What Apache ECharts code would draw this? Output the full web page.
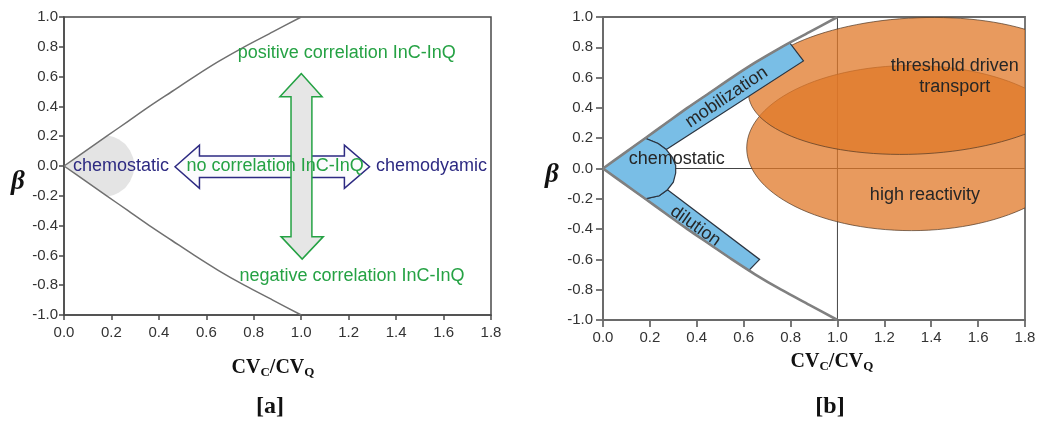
<!DOCTYPE html>
<html><head><meta charset="utf-8">
<script src="https://cdn.jsdelivr.net/npm/echarts@6/dist/echarts.min.js"></script>
<style>html,body{margin:0;padding:0;background:#fff}#c{width:1054px;height:423px}</style>
</head><body><div id="c"></div>
<script>
// ---------- data ----------
// boundary curve: |beta| vs CVc/CVq
const curveBeta  = [0, 0.1, 0.2, 0.3, 0.4, 0.5, 0.6, 0.7, 0.8, 0.9, 1.0];
const curveRatio = [0, 0.09, 0.18, 0.27, 0.36, 0.455, 0.55, 0.65, 0.76, 0.88, 1.0];
const xTickValues = [0, 0.2, 0.4, 0.6, 0.8, 1.0, 1.2, 1.4, 1.6, 1.8];
const yTickValues = [-1.0, -0.8, -0.6, -0.4, -0.2, 0.0, 0.2, 0.4, 0.6, 0.8, 1.0];

// panel [a]
const chemoGrayA = [[0,0],[0.185,0.205],[0.21,0.195],[0.23,0.18],[0.258,0.147],[0.278,0.104],[0.292,0.054],[0.296,0],[0.292,-0.054],[0.278,-0.104],[0.258,-0.147],[0.23,-0.18],[0.21,-0.195],[0.185,-0.205]];
const arrowNoCorr = [[0.468,-0.005],[0.571,0.14],[0.571,0.067],[1.182,0.067],[1.182,0.14],[1.288,-0.005],[1.182,-0.15],[1.182,-0.077],[0.571,-0.077],[0.571,-0.15]];
const arrowCorr = [[1.0,0.62],[1.088,0.464],[1.045,0.464],[1.045,-0.474],[1.093,-0.474],[1.004,-0.625],[0.915,-0.474],[0.957,-0.474],[0.957,0.464],[0.91,0.464]];
const greenLabelsA = [['positive correlation InC-InQ',1.192,0.755],['negative correlation InC-InQ',1.214,-0.737],['no correlation InC-InQ',0.89,0]];
const navyLabelsA = [['chemostatic',0.24,0],['chemodyamic',1.549,0]];

// panel [b]
const guideV = [[1,-1],[1,1]];
const guideH = [[0.31,0],[1.8,0]];
const ellipseThreshold = [1.34, 0.545, 0.72, 0.45, 0.06];   // cx, cy, a, b, tilt
const ellipseReactivity = [1.316, 0.135, 0.703, 0.545, 0];
const chemoArcB = [[0.18,0.2],[0.235,0.165],[0.27,0.125],[0.295,0.075],[0.31,0.02],[0.31,-0.03],[0.3,-0.09],[0.275,-0.14],[0.24,-0.18],[0.18,-0.2]];
const mobilizationBand = [[0.18,0.2],[0.27,0.3],[0.36,0.4],[0.455,0.5],[0.55,0.6],[0.65,0.7],[0.76,0.8],[0.796,0.83],[0.855,0.71],[0.27,0.125],[0.235,0.165]];
const dilutionBand = [[0.18,-0.2],[0.27,-0.3],[0.36,-0.4],[0.455,-0.5],[0.55,-0.6],[0.622,-0.673],[0.668,-0.6],[0.275,-0.14],[0.24,-0.18]];
const labelsB = [['chemostatic',0.315,0.06],['mobilization',0.527,0.47],['dilution',0.394,-0.38],['threshold driven\ntransport',1.5,0.607],['high reactivity',1.373,-0.177]];
const labelAnglesB = [0, 34, -35, 0, 0];

// ---------- drawing ----------
const upperCurve = curveRatio.map((r,i)=>[r, curveBeta[i]]);
const lowerCurve = curveRatio.map((r,i)=>[r, -curveBeta[i]]);
const chemoPolyB = [[0,0],[0.09,0.1]].concat(chemoArcB).concat([[0.09,-0.1]]);

const SANS = '"Liberation Sans", Arial, sans-serif';
const SERIF = '"Liberation Serif", "Times New Roman", serif';
const NAVY = '#2d2a82', GREEN = '#25a244';

function pts(api, arr){ return arr.map(p => api.coord(p)); }
function ellipsePts(api, e){
  const out = [];
  for (let k = 0; k < 120; k++) {
    const t = k / 120 * Math.PI * 2;
    const x = e[0] + e[2]*Math.cos(t);
    const y = e[1] + e[3]*Math.sin(t) + e[4]*e[2]*Math.cos(t);
    out.push(api.coord([x, y]));
  }
  return out;
}
function custom(idx, z, build){
  return {type:'custom', xAxisIndex:idx, yAxisIndex:idx, z:z, clip:true, silent:true,
    data:[[0,0]], renderItem:(p, api) => ({type:'group', children: build(api)})};
}
function axisPair(idx, col, w, tickLen){
  const common = {
    type:'value', gridIndex:idx,
    axisLine:{show:true, onZero:false, lineStyle:{color:col, width:w}},
    axisTick:{show:true, length:tickLen, lineStyle:{color:col, width:w}},
    splitLine:{show:false},
    axisLabel:{color:'#333', fontSize:15, fontFamily:SANS, formatter:v=>v.toFixed(1)}
  };
  return [
    Object.assign({}, common, {min:0, max:1.8, interval:0.2, axisLabel:Object.assign({}, common.axisLabel, {margin:10, showMaxLabel:true})}),
    Object.assign({}, common, {min:-1, max:1, interval:0.2, axisLabel:Object.assign({}, common.axisLabel, {margin: idx===0 ? 6 : 10})})
  ];
}
const axA = axisPair(0, '#4a4a4a', 1.5, 5);
const axB = axisPair(1, '#6a6a6a', 1.8, 7);

function title(x, y){
  return {type:'text', x:x, y:y, style:{
    text:'{m|CV}{s|C}{m|/CV}{s|Q}', align:'center', verticalAlign:'middle', fill:'#111',
    rich:{m:{font:'bold 20px '+SERIF, fill:'#111'}, s:{font:'bold 13px '+SERIF, fill:'#111', padding:[9,0,0,0]}}
  }};
}

const option = {
  animation:false,
  backgroundColor:'#fff',
  grid:[
    {left:64, top:17, width:427, height:298, show:true, borderColor:'#4a4a4a', borderWidth:1.5, backgroundColor:'#fff'},
    {left:603, top:17, width:422, height:303, show:true, borderColor:'#6a6a6a', borderWidth:1.8, backgroundColor:'#fff'}
  ],
  xAxis:[axA[0], axB[0]],
  yAxis:[axA[1], axB[1]],
  graphic:[
    {type:'text', x:18, y:182, style:{text:'β', font:'italic bold 27px '+SERIF, fill:'#111', align:'center', verticalAlign:'middle'}},
    {type:'text', x:552, y:175, style:{text:'β', font:'italic bold 27px '+SERIF, fill:'#111', align:'center', verticalAlign:'middle'}},
    title(273, 368), title(832, 362),
    {type:'text', x:270, y:407, style:{text:'[a]', font:'bold 24px '+SERIF, fill:'#111', align:'center', verticalAlign:'middle'}},
    {type:'text', x:830, y:407, style:{text:'[b]', font:'bold 24px '+SERIF, fill:'#111', align:'center', verticalAlign:'middle'}}
  ],
  series:[
    // ---- panel a ----
    custom(0, 1, api => [{type:'polygon', shape:{points:pts(api, chemoGrayA)}, style:{fill:'#e4e4e4', stroke:null}}]),
    {type:'line', xAxisIndex:0, yAxisIndex:0, z:3, data:upperCurve, smooth:0.3, symbol:'none', silent:true, lineStyle:{color:'#707070', width:1.5}},
    {type:'line', xAxisIndex:0, yAxisIndex:0, z:3, data:lowerCurve, smooth:0.3, symbol:'none', silent:true, lineStyle:{color:'#707070', width:1.5}},
    custom(0, 4, api => [
      {type:'polygon', shape:{points:pts(api, arrowNoCorr)}, style:{fill:'#fbfbfd', stroke:NAVY, lineWidth:1.5}},
      {type:'polygon', shape:{points:pts(api, arrowCorr)}, style:{fill:'#e6e6e6', stroke:GREEN, lineWidth:1.5}}
    ]),
    custom(0, 6, api => greenLabelsA.map(l => {
      const c = api.coord([l[1], l[2]]);
      return {type:'text', x:c[0], y:c[1], style:{text:l[0], fill:GREEN, font:'18px '+SANS, align:'center', verticalAlign:'middle'}};
    }).concat(navyLabelsA.map(l => {
      const c = api.coord([l[1], l[2]]);
      return {type:'text', x:c[0], y:c[1], style:{text:l[0], fill:NAVY, font:'18px '+SANS, align:'center', verticalAlign:'middle'}};
    }))),
    // ---- panel b ----
    {type:'line', xAxisIndex:1, yAxisIndex:1, z:1, data:guideV, symbol:'none', silent:true, lineStyle:{color:'#444', width:1}},
    {type:'line', xAxisIndex:1, yAxisIndex:1, z:1, data:guideH, symbol:'none', silent:true, lineStyle:{color:'#444', width:1}},
    custom(1, 2, api => [
      {type:'polygon', shape:{points:ellipsePts(api, ellipseReactivity)}, style:{fill:'rgba(224,120,40,0.75)', stroke:'rgba(80,55,35,0.7)', lineWidth:1}},
      {type:'polygon', shape:{points:ellipsePts(api, ellipseThreshold)}, style:{fill:'rgba(224,120,40,0.75)', stroke:'rgba(80,55,35,0.7)', lineWidth:1}}
    ]),
    custom(1, 3, api => [
      {type:'polygon', shape:{points:pts(api, mobilizationBand)}, style:{fill:'#79bee6', stroke:'#2b3440', lineWidth:1.2}},
      {type:'polygon', shape:{points:pts(api, dilutionBand)}, style:{fill:'#79bee6', stroke:'#2b3440', lineWidth:1.2}},
      {type:'polygon', shape:{points:pts(api, chemoPolyB)}, style:{fill:'#79bee6', stroke:'#2b3440', lineWidth:1.2}}
    ]),
    {type:'line', xAxisIndex:1, yAxisIndex:1, z:4, data:upperCurve, smooth:0.3, symbol:'none', silent:true, lineStyle:{color:'#808080', width:2.6}},
    {type:'line', xAxisIndex:1, yAxisIndex:1, z:4, data:lowerCurve, smooth:0.3, symbol:'none', silent:true, lineStyle:{color:'#808080', width:2.6}},
    custom(1, 6, api => labelsB.map((l, i) => {
      const c = api.coord([l[1], l[2]]);
      return {type:'text', x:c[0], y:c[1], rotation:labelAnglesB[i]*Math.PI/180,
        style:{text:l[0], fill:'#262626', font:'18px '+SANS, align:'center', verticalAlign:'middle', lineHeight:21}};
    }))
  ]
};
const chart = echarts.init(document.getElementById('c'));
chart.setOption(option);
</script>
</body></html>
